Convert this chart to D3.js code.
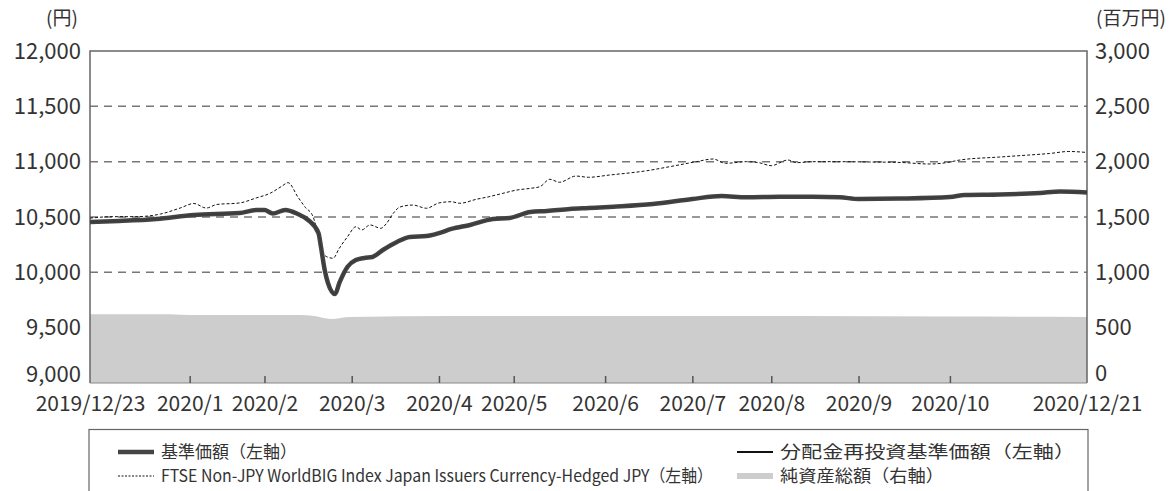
<!DOCTYPE html>
<html>
<head>
<meta charset="utf-8">
<script src="https://cdn.jsdelivr.net/npm/d3@7"></script>
<style>
  body {margin: 0; background: #fff;}
  svg {display: block; font-family: "Noto Sans CJK JP", "Noto Sans", sans-serif;}
  .tick text {fill: #333;}
</style>
</head>
<body>
<script>
// 営業日インデックス (2019/12/23 = 0, 2020/12/21 = 240)
const navDays = [0, 7, 16, 25, 36, 40, 42, 44, 47, 50, 52.5, 55, 55.6, 56.5, 57.3, 59, 60, 62, 64, 66, 68, 70.5, 74, 77, 81, 84, 87, 91.5, 97, 101, 106, 110, 115.5, 120, 126, 135.5, 145, 152, 158, 166, 174, 180.5, 185, 195, 207, 210.6, 219, 228.7, 233.5, 240]
const nav = [10455, 10464, 10482, 10518, 10536, 10563, 10563, 10532, 10563, 10527, 10473, 10355, 10229, 10021, 9902, 9804, 9902, 10051, 10111, 10130, 10139, 10202, 10277, 10319, 10328, 10355, 10392, 10428, 10482, 10491, 10545, 10554, 10572, 10581, 10593, 10617, 10663, 10690, 10678, 10683, 10683, 10678, 10663, 10667, 10681, 10699, 10703, 10717, 10730, 10721]

const benchDays = [0, 5.5, 11, 17, 21.7, 25, 28, 30.5, 36, 40, 43.5, 46, 47.7, 50, 51.7, 53.7, 55, 56, 57, 58.5, 60, 62, 64, 65.4, 67.4, 70, 71.4, 73, 74.6, 77.7, 81, 84, 87, 89, 93, 96, 99.4, 102.8, 106, 108.3, 110.7, 113, 117, 120, 125, 134, 139.6, 146, 150, 153, 158, 161, 164, 168, 170, 174, 180.5, 187.7, 195, 202, 206.5, 209.4, 219, 226, 231, 235.6, 240]
const bench = [10490, 10503, 10503, 10527, 10581, 10622, 10581, 10613, 10627, 10672, 10717, 10774, 10810, 10683, 10593, 10503, 10322, 10175, 10141, 10127, 10217, 10322, 10412, 10383, 10428, 10398, 10443, 10533, 10590, 10608, 10579, 10627, 10638, 10624, 10660, 10683, 10714, 10744, 10759, 10774, 10841, 10814, 10870, 10859, 10879, 10918, 10955, 11000, 11024, 10985, 11000, 10991, 10964, 11015, 10991, 11000, 11000, 10997, 10993, 10979, 10993, 11015, 11042, 11060, 11074, 11092, 11083]

const assetDays = [0, 17, 26.5, 50.5, 54, 58, 62.6, 87, 123, 171, 207, 240]
const assets = [621, 621, 614, 614, 605, 578, 596, 605, 605, 605, 600, 596]

const xTickDays = [0, 24, 42, 63, 84, 102, 124, 145, 164, 185, 207, 240]
const xTickLabels = ['2019/12/23', '2020/1', '2020/2', '2020/3', '2020/4', '2020/5', '2020/6', '2020/7', '2020/8', '2020/9', '2020/10', '2020/12/21']
const leftTicks = [9000, 9500, 10000, 10500, 11000, 11500, 12000]
const rightTicks = [0, 500, 1000, 1500, 2000, 2500, 3000]

const svgWidth = 1173
const svgHeight = 491
const margin = {top: 51, right: 86, bottom: 108, left: 90}
const width = svgWidth - margin.left - margin.right
const height = svgHeight - margin.top - margin.bottom

const svg = d3.select('body').append('svg')
  .attr('width', svgWidth).attr('height', svgHeight)
const g = svg.append('g')
  .attr('transform', `translate(${margin.left},${margin.top})`)

const x = d3.scaleLinear().domain([0, 240]).range([0, width])
const yL = d3.scaleLinear().domain([9000, 12000]).range([height, 0])
const yR = d3.scaleLinear().domain([0, 3000]).range([height, 0])

// グリッド
g.append('g').selectAll('line').data(leftTicks.slice(1, -1)).enter().append('line')
  .attr('x1', 0).attr('x2', width)
  .attr('y1', d => yL(d)).attr('y2', d => yL(d))
  .attr('stroke', '#777').attr('stroke-width', 1.5).attr('stroke-dasharray', '8,6')

// 純資産総額
const area = d3.area()
  .x((d, i) => x(assetDays[i]))
  .y0(height).y1(d => yR(d))
  .curve(d3.curveMonotoneX)
g.append('path').datum(assets).attr('d', area).attr('fill', '#cdcdcd')

// 枠
g.append('path')
  .attr('d', `M0,${height}V0H${width}V${height}`)
  .attr('fill', 'none').attr('stroke', '#666').attr('stroke-width', 1.5)
g.append('line').attr('x1', 0).attr('x2', width).attr('y1', height).attr('y2', height)
  .attr('stroke', '#888').attr('stroke-width', 1)

// 線
const lineOf = days => d3.line().x((d, i) => x(days[i])).y(d => yL(d)).curve(d3.curveMonotoneX)
g.append('path').datum(bench).attr('d', lineOf(benchDays))
  .attr('fill', 'none').attr('stroke', '#111').attr('stroke-width', 1).attr('stroke-dasharray', '3,2')
g.append('path').datum(nav).attr('d', lineOf(navDays))
  .attr('fill', 'none').attr('stroke', '#444').attr('stroke-width', 4.5).attr('stroke-linejoin', 'round')
g.append('path').datum(nav).attr('d', lineOf(navDays))
  .attr('fill', 'none').attr('stroke', '#3a3a3a').attr('stroke-width', 1.2)

// 軸
const xAxis = g.append('g').attr('transform', `translate(0,${height})`)
  .call(d3.axisBottom(x).tickValues(xTickDays).tickFormat((d, i) => xTickLabels[i]).tickSize(-7).tickPadding(13))
xAxis.select('.domain').remove()
xAxis.selectAll('.tick line').attr('stroke', '#555').attr('stroke-width', 1.5)
  .filter((d, i) => i === 0 || i === xTickDays.length - 1).remove()
xAxis.selectAll('.tick text').attr('font-size', 21).attr('font-family', '"Noto Sans CJK JP"')

const yAxisL = g.append('g')
  .call(d3.axisLeft(yL).tickValues(leftTicks).tickFormat(d3.format(',')).tickSize(0).tickPadding(9))
yAxisL.select('.domain').remove()
yAxisL.selectAll('.tick text').attr('font-size', 22).attr('font-family', '"Noto Sans CJK JP"')
  .filter(d => d === 9000).attr('y', -9)

const yAxisR = g.append('g').attr('transform', `translate(${width},0)`)
  .call(d3.axisRight(yR).tickValues(rightTicks).tickFormat(d3.format(',')).tickSize(0).tickPadding(8))
yAxisR.select('.domain').remove()
yAxisR.selectAll('.tick text').attr('font-size', 22).attr('font-family', '"Noto Sans CJK JP"')
  .filter(d => d === 0).attr('y', -10)

svg.append('text').attr('x', 62).attr('y', 25).attr('text-anchor', 'middle')
  .attr('font-size', 19).attr('fill', '#333').text('(円)')
svg.append('text').attr('x', 1131).attr('y', 25).attr('text-anchor', 'middle')
  .attr('font-size', 19).attr('fill', '#333').text('(百万円)')

// 凡例
const legend = svg.append('g')
legend.append('rect').attr('x', 89).attr('y', 429.5).attr('width', 999).attr('height', 80)
  .attr('fill', '#fff').attr('stroke', '#666').attr('stroke-width', 1.2)

const items = [
  {x: 118, y: 452, label: '基準価額（左軸）', stroke: '#444', w: 4.5, dash: null, len: 136},
  {x: 118, y: 476, label: 'FTSE Non-JPY WorldBIG Index Japan Issuers Currency-Hedged JPY（左軸）', stroke: '#111', w: 1, dash: '2,1.5', len: 552},
  {x: 737, y: 452, label: '分配金再投資基準価額（左軸）', stroke: '#111', w: 2, dash: null, len: 295},
  {x: 737, y: 476, label: '純資産総額（右軸）', stroke: '#cdcdcd', w: 6, dash: null, len: 164}
]
const item = legend.selectAll('.item').data(items).enter().append('g')
item.append('line')
  .attr('x1', d => d.x).attr('x2', d => d.x + 36)
  .attr('y1', d => d.y).attr('y2', d => d.y)
  .attr('stroke', d => d.stroke).attr('stroke-width', d => d.w)
  .attr('stroke-dasharray', d => d.dash)
item.append('text')
  .attr('x', d => d.x + 43).attr('y', d => d.y).attr('dy', '0.35em')
  .attr('font-size', 17).attr('fill', '#333')
  .attr('textLength', d => d.len).attr('lengthAdjust', 'spacingAndGlyphs')
  .text(d => d.label)
</script>
</body>
</html>
